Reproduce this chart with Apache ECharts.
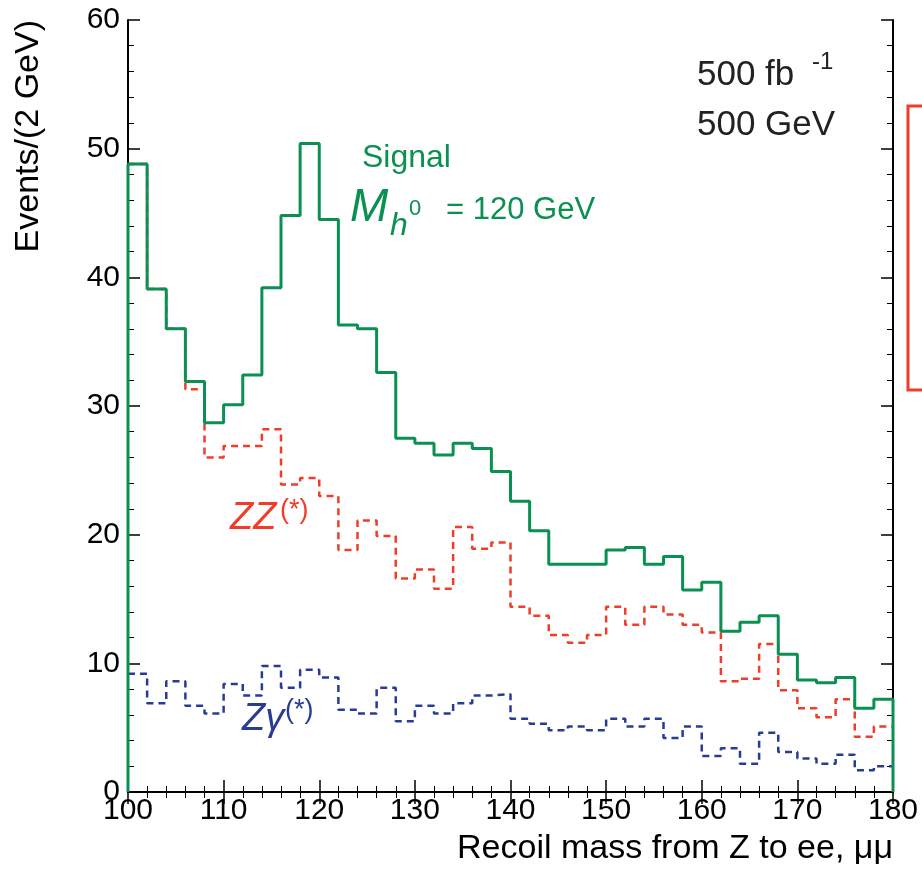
<!DOCTYPE html>
<html><head><meta charset="utf-8">
<script src="https://cdn.jsdelivr.net/npm/echarts@6/dist/echarts.min.js"></script>
<style>html,body{margin:0;padding:0;background:#fff}#c{width:922px;height:871px}</style>
</head><body><div id="c"></div>
<script>
// bins of 2 GeV from 100 to 180
var binStart = 100, binWidth = 2;
var signal = [48.8,39.1,36.0,31.9,28.7,30.1,32.4,39.2,44.8,50.4,44.5,36.3,36.0,32.6,27.5,27.1,26.2,27.1,26.7,24.9,
              22.6,20.3,17.7,17.7,17.7,18.8,19.0,17.7,18.3,15.7,16.3,12.5,13.2,13.7,10.7,8.7,8.5,8.9,6.5,7.2];
var zz = [48.8,39.1,36.0,31.3,26.0,26.9,26.9,28.2,23.9,24.4,23.0,18.8,21.1,19.9,16.6,17.3,15.8,20.6,18.9,19.4,
          14.4,13.7,12.2,11.6,12.2,14.4,13.0,14.4,13.8,13.0,12.4,8.6,8.8,11.5,7.9,6.5,5.8,7.2,4.3,5.1];
var zgamma = [9.2,6.9,8.6,6.7,6.1,8.4,7.5,9.8,8.1,9.5,8.9,6.4,6.1,8.1,5.5,6.7,6.1,6.9,7.5,7.6,
              5.7,5.3,4.8,5.1,4.8,5.7,5.1,5.7,4.2,5.1,2.8,3.4,2.2,4.6,3.1,2.6,2.2,2.9,1.7,2.0];

function steps(vals, closed) {
  var d = [];
  if (closed) d.push([binStart, 0]);
  for (var i = 0; i < vals.length; i++) {
    d.push([binStart + i * binWidth, vals[i]]);
    d.push([binStart + (i + 1) * binWidth, vals[i]]);
  }
  if (closed) d.push([binStart + vals.length * binWidth, 0]);
  return d;
}

var font = 'Liberation Sans, Arial, sans-serif';
var chart = echarts.init(document.getElementById('c'));
var ax = {
  axisLine: {show: true, lineStyle: {color: '#000', width: 2}},
  axisTick: {show: true, inside: true, length: 12, lineStyle: {color: '#000', width: 1.5}},
  minorTick: {show: true, splitNumber: 5, length: 6, lineStyle: {color: '#000'}},
  splitLine: {show: false}
};
chart.setOption({
  animation: false,
  grid: {left: 128, right: 29, top: 20, bottom: 79},
  xAxis: [Object.assign({type: 'value', min: 100, max: 180, interval: 10,
    axisLabel: {color: '#000', fontSize: 30, fontFamily: font, margin: 4},
    name: 'Recoil mass from Z to ee, μμ', nameLocation: 'end', nameGap: 0,
    nameTextStyle: {color: '#000', fontSize: 34, fontFamily: font, align: 'right', verticalAlign: 'top', padding: [40, 0, 0, 0]}}, ax),
    Object.assign({type: 'value', position: 'top', min: 100, max: 180, interval: 10, axisLabel: {show: false}}, ax)],
  yAxis: [Object.assign({type: 'value', min: 0, max: 60, interval: 10,
    axisLabel: {color: '#000', fontSize: 30, fontFamily: font, margin: 8},
    name: 'Events/(2 GeV)', nameLocation: 'end', nameRotate: 90, nameGap: 0,
    nameTextStyle: {color: '#000', fontSize: 34, fontFamily: font, align: 'right', verticalAlign: 'bottom', padding: [0, 0, 82, 0]}}, ax),
    Object.assign({type: 'value', position: 'right', min: 0, max: 60, interval: 10, axisLabel: {show: false}}, ax)],
  series: [
    {type: 'line', data: steps(zgamma, false), symbol: 'none', lineStyle: {color: '#283c96', width: 2.5, type: [7, 5]}},
    {type: 'line', data: steps(zz, false), symbol: 'none', lineStyle: {color: '#f03c28', width: 2.5, type: [7, 5]}},
    {type: 'line', data: steps(signal, true), symbol: 'none', lineStyle: {color: '#0a9050', width: 3}}
  ],
  graphic: [
    {type: 'text', left: 697, top: 58, style: {text: '500 fb', fontSize: 35, fontFamily: font, fill: '#222'}},
    {type: 'text', left: 812, top: 50, style: {text: '-1', fontSize: 24, fontFamily: font, fill: '#222'}},
    {type: 'text', left: 697, top: 108, style: {text: '500 GeV', fontSize: 35, fontFamily: font, fill: '#222'}},
    {type: 'text', left: 362, top: 142, style: {text: 'Signal', fontSize: 32, fontFamily: font, fill: '#0a9050'}},
    {type: 'text', left: 350, top: 185, style: {text: 'M', fontSize: 46, fontStyle: 'italic', fontFamily: font, fill: '#0a9050'}},
    {type: 'text', left: 390, top: 210, style: {text: 'h', fontSize: 32, fontStyle: 'italic', fontFamily: font, fill: '#0a9050'}},
    {type: 'text', left: 409, top: 198, style: {text: '0', fontSize: 22, fontFamily: font, fill: '#0a9050'}},
    {type: 'text', left: 446, top: 195, style: {text: '= 120 GeV', fontSize: 31, fontFamily: font, fill: '#0a9050'}},
    {type: 'text', left: 230, top: 499, style: {text: 'ZZ', fontSize: 38, fontStyle: 'italic', fontFamily: font, fill: '#f03c28'}},
    {type: 'text', left: 280, top: 497, style: {text: '(*)', fontSize: 27, fontFamily: font, fill: '#f03c28'}},
    {type: 'text', left: 242, top: 700, style: {text: 'Zγ', fontSize: 38, fontStyle: 'italic', fontFamily: font, fill: '#283c96'}},
    {type: 'text', left: 285, top: 697, style: {text: '(*)', fontSize: 27, fontFamily: font, fill: '#283c96'}},
    {type: 'rect', shape: {x: 908, y: 106, width: 30, height: 284}, style: {fill: 'none', stroke: '#f03c28', lineWidth: 3}}
  ]
});
</script></body></html>
